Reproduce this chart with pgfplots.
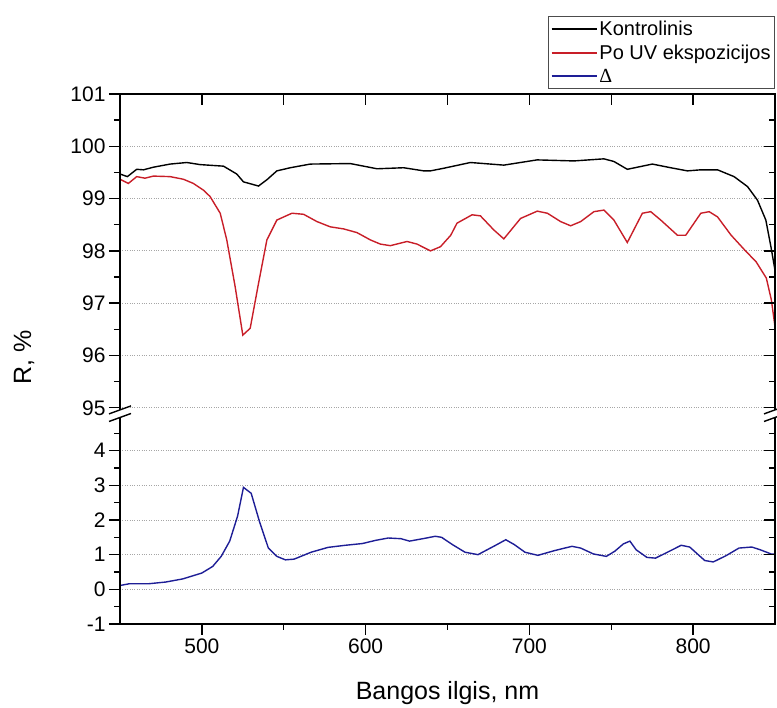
\documentclass[border=0pt]{standalone}
\usepackage{pgfplots}
\pgfplotsset{compat=1.18}
\usepackage{fontspec}
\setmainfont{Liberation Sans}
\newfontfamily\serifd{Liberation Serif}
\definecolor{cred}{RGB}{200,30,40}
\definecolor{cblue}{RGB}{30,30,150}

\pgfplotstableread{
x y
450 99.47
454.5 99.42
460.2 99.56
464.3 99.55
470.4 99.60
480.6 99.66
490.8 99.69
498.9 99.65
513.2 99.62
521.3 99.47
525.4 99.32
534.6 99.24
539.7 99.36
545.8 99.53
554 99.59
566.2 99.66
590.6 99.67
598.8 99.62
607 99.57
623.2 99.59
635.5 99.53
639.6 99.53
647.7 99.58
664 99.69
684.4 99.64
704.7 99.74
727.2 99.72
745.5 99.76
751.6 99.71
759.8 99.56
775.1 99.66
786.3 99.59
796.5 99.53
804.7 99.55
814.9 99.55
825 99.42
833.2 99.23
839.3 98.97
844.4 98.59
847.5 98.08
850 97.63
}\kontrol

\pgfplotstableread{
x y
450 99.37
455.1 99.29
460.2 99.42
465.3 99.39
470.4 99.43
480.6 99.42
488.7 99.37
494.8 99.29
501 99.16
505 99.04
511.2 98.72
515.2 98.21
520.3 97.32
525 96.39
529.5 96.52
534.6 97.38
539.7 98.21
545.8 98.59
555 98.72
562.1 98.70
570.3 98.56
578.4 98.46
586.6 98.42
594.7 98.35
602.9 98.21
609 98.13
615.1 98.10
625.3 98.18
631.4 98.13
639.6 98.00
645.7 98.08
652 98.30
655.8 98.53
665 98.69
670.1 98.67
678.3 98.40
684.4 98.23
694.6 98.62
704.8 98.76
711 98.72
719.1 98.56
725.2 98.48
731.3 98.56
739.4 98.75
745.5 98.78
751.6 98.59
759.8 98.16
769 98.72
774.1 98.75
780.2 98.59
790.4 98.30
795.5 98.30
804.7 98.72
809.8 98.75
814.9 98.65
823.2 98.30
831.4 98.02
838.5 97.79
844.7 97.48
847.8 97.06
850 96.55
}\poUV

\pgfplotstableread{
x y
450 0.11
455.6 0.16
467.4 0.16
477.9 0.21
488.3 0.30
500 0.47
506.6 0.66
511.8 0.95
517 1.39
521.8 2.11
525.4 2.94
530.1 2.77
535.4 1.92
540.6 1.19
545.8 0.95
551 0.85
556.3 0.87
566.7 1.07
577.1 1.21
587.6 1.27
598 1.32
605.9 1.41
613.8 1.48
621.6 1.46
626.8 1.39
637.2 1.48
642.5 1.53
646.4 1.50
653 1.29
660.7 1.07
668.6 1.00
679 1.26
685.6 1.43
690.8 1.29
697.3 1.07
705.2 0.98
715.6 1.12
726 1.24
731.3 1.19
739.1 1.02
747 0.95
752.2 1.10
757.4 1.31
761.4 1.39
765.2 1.14
771.8 0.92
777 0.90
783.5 1.05
792.7 1.27
797.9 1.22
807.1 0.83
812.3 0.79
820.1 0.97
828 1.19
835.8 1.22
841 1.14
847.6 1.02
850 1.01
}\deltatab

\pgfplotsset{
  base/.style={
    scale only axis, width=655pt, xmin=450, xmax=850,
    clip mode=individual,
    axis line style={draw=none},
    major tick length=11pt, minor tick length=6pt,
    tick style={black, line width=1.4pt},
    /pgf/number format/assume math mode=true,
    ticklabel style={font=\fontsize{21}{25}\selectfont},
    grid style={dotted, gray!70, line width=0.9pt},
  },
}

\begin{document}
\begin{tikzpicture}
\path[use as bounding box] (0,0) rectangle (777pt,708pt);

% ---------- upper segment ----------
\begin{axis}[base,
  at={(120pt,298.1pt)}, anchor=south west, height=315.9pt,
  ymin=94.96, ymax=101,
  xtick=\empty,
  ytick={95,96,...,101}, minor ytick={95.5,96.5,...,100.5},
  ytick pos=left, tick align=outside,
  ymajorgrids,
  ylabel={R, \%},
  every axis y label/.style={at={(axis description cs:-0.1466,0.167)}, rotate=90, anchor=center, font=\fontsize{25}{30}\selectfont},
  legend cell align=left,
  legend style={at={(axis description cs:1,1)}, anchor=south east, yshift=5pt,
    font=\fontsize{20}{24}\selectfont, draw=black!70, line width=0.8pt,
    inner xsep=2pt, inner ysep=3pt, row sep=4pt},
]
\addlegendimage{black, line width=1.4pt, legend image code/.code={\draw[black, line width=1.4pt] (0pt,0pt) -- (45pt,0pt);}}
\addlegendentry{Kontrolinis}
\addlegendimage{cred, line width=1.4pt, legend image code/.code={\draw[cred, line width=1.4pt] (0pt,0pt) -- (45pt,0pt);}}
\addlegendentry{Po UV ekspozicijos}
\addlegendimage{cblue, line width=1.6pt, legend image code/.code={\draw[cblue, line width=1.6pt] (0pt,0.5pt) -- (45pt,0.5pt);}}
\addlegendentry{{\serifd Δ}}
\addplot[black, line width=1.4pt, forget plot] table[x=x,y=y] {\kontrol};
\addplot[cred, line width=1.4pt, forget plot] table[x=x,y=y] {\poUV};
\draw[line width=1.5pt] (rel axis cs:0,0) -- (rel axis cs:0,1) -- (rel axis cs:1,1) -- (rel axis cs:1,0);
\end{axis}

\begin{axis}[base,
  at={(120pt,298.1pt)}, anchor=south west, height=315.9pt,
  ymin=94.96, ymax=101,
  xtick={500,550,...,800}, xticklabels={},
  ytick={95,96,...,101}, minor ytick={95.5,96.5,...,100.5}, yticklabels={},
  xtick pos=top, ytick pos=right, tick align=inside,
]
\end{axis}

% ---------- lower segment ----------
\begin{axis}[base,
  at={(120pt,84pt)}, anchor=south west, height=206.3pt,
  ymin=-1, ymax=4.95,
  xtick={500,600,700,800}, minor xtick={550,650,750},
  ytick={-1,0,...,4}, minor ytick={-0.5,0.5,...,4.5},
  xtick pos=bottom, ytick pos=left, tick align=outside,
  ymajorgrids,
  xlabel={Bangos ilgis, nm},
  every axis x label/.style={at={(axis description cs:0.5,-0.3684)}, anchor=base, font=\fontsize{25}{30}\selectfont},
]
\addplot[cblue, line width=1.4pt] table[x=x,y=y] {\deltatab};
\draw[line width=1.5pt] (rel axis cs:0,1) -- (rel axis cs:0,0) -- (rel axis cs:1,0) -- (rel axis cs:1,1);
\end{axis}

\begin{axis}[base,
  at={(120pt,84pt)}, anchor=south west, height=206.3pt,
  ymin=-1, ymax=4.95,
  xtick=\empty,
  ytick={-1,0,...,4}, minor ytick={-0.5,0.5,...,4.5}, yticklabels={},
  ytick pos=right, tick align=inside,
]
\end{axis}

% ---------- axis break marks ----------
\draw[line width=1.4pt] (109pt,294.1pt) -- (131pt,302.1pt);
\draw[line width=1.4pt] (109pt,286.5pt) -- (131pt,294.5pt);
\draw[line width=1.4pt] (764pt,294.1pt) -- (786pt,302.1pt);
\draw[line width=1.4pt] (764pt,286.5pt) -- (786pt,294.5pt);
\end{tikzpicture}
\end{document}
